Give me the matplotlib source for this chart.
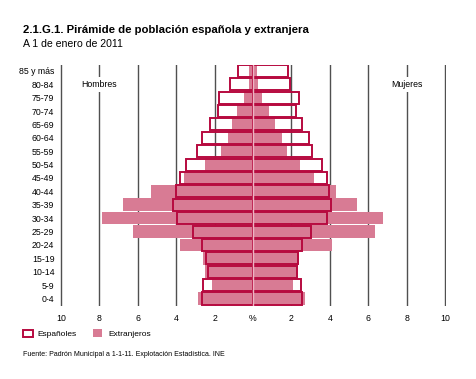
import matplotlib
matplotlib.use("Agg")
import matplotlib.pyplot as plt
import numpy as np
from matplotlib.patches import Rectangle

plt.rcParams['font.family'] = ['Liberation Sans', 'DejaVu Sans']

ages = ["0-4", "5-9", "10-14", "15-19", "20-24", "25-29", "30-34", "35-39",
        "40-44", "45-49", "50-54", "55-59", "60-64", "65-69", "70-74",
        "75-79", "80-84", "85 y más"]
esp_h = [2.66, 2.61, 2.35, 2.44, 2.66, 3.13, 3.94, 4.15, 4.00, 3.82, 3.48,
         2.94, 2.68, 2.26, 1.83, 1.78, 1.19, 0.77]
esp_m = [2.53, 2.50, 2.27, 2.36, 2.57, 3.03, 3.83, 4.07, 3.95, 3.85, 3.57,
         3.07, 2.90, 2.57, 2.25, 2.37, 1.91, 1.82]
ext_h = [2.85, 2.16, 2.50, 2.61, 3.81, 6.23, 7.88, 6.78, 5.29, 3.60, 2.49,
         1.68, 1.28, 1.09, 0.83, 0.48, 0.19, 0.19]
ext_m = [2.72, 2.08, 2.36, 2.40, 4.11, 6.36, 6.79, 5.39, 4.30, 3.17, 2.43,
         1.77, 1.51, 1.16, 0.82, 0.47, 0.25, 0.21]
xticks = [-10, -8, -6, -4, -2, 0, 2, 4, 6, 8, 10]
xticklabels = ["10", "8", "6", "4", "2", "%", "2", "4", "6", "8", "10"]

crimson = '#b70a3f'
pink = '#d87b94'
centre = '#eeb3c2'

fig = plt.figure(figsize=(4.76, 3.79), dpi=100)
ax = fig.add_axes([0.126, 0.193, 0.811, 0.636])

y = np.arange(len(ages))
for xv in [-10, -8, -6, -4, -2, 2, 4, 6, 8, 10]:
    ax.axvline(xv, color='#505050', lw=1.0, zorder=0)

ax.barh(y, -np.array(ext_h), height=0.94, color=pink, zorder=1)
ax.barh(y, ext_m, height=0.94, color=pink, zorder=1)
ax.barh(y, -np.array(esp_h), height=0.9, fill=False, edgecolor=crimson, lw=1.4, zorder=2)
ax.barh(y, esp_m, height=0.9, fill=False, edgecolor=crimson, lw=1.4, zorder=2)
ax.axvline(0, color=centre, lw=1.0, zorder=3)

ax.set_xlim(-10.05, 10.05)
ax.set_ylim(-0.55, 17.45)
ax.set_xticks(xticks)
ax.set_xticklabels(xticklabels, fontsize=6.3)
ax.set_xticks([-2, 2], minor=True)
ax.set_yticks(y)
ax.set_yticklabels(ages, fontsize=6.3)
ax.tick_params(axis='x', which='major', length=0, pad=6)
ax.tick_params(axis='x', which='minor', length=3, width=1.0, color='#505050')
ax.tick_params(axis='y', length=0, pad=4)
for s in ax.spines.values():
    s.set_visible(False)

ax.text(-8, 16, "Hombres", ha='center', va='center', fontsize=6.3,
        bbox=dict(facecolor='white', edgecolor='none', pad=2), zorder=4)
ax.text(8, 16, "Mujeres", ha='center', va='center', fontsize=6.3,
        bbox=dict(facecolor='white', edgecolor='none', pad=2), zorder=4)

fig.text(23/476, 1-30/379, "2.1.G.1. Pirámide de población española y extranjera",
         fontsize=8.2, fontweight='bold', va='center', ha='left')
fig.text(23/476, 1-44/379, "A 1 de enero de 2011", fontsize=7.6, va='center', ha='left')

# legend
fig.patches.append(Rectangle((23/476, 1-337/379), 10/476, 7/379, transform=fig.transFigure,
                             fill=False, edgecolor=crimson, lw=1.4))
fig.text(37/476, 1-334/379, "Españoles", fontsize=6, va='center', ha='left')
fig.patches.append(Rectangle((93/476, 1-337/379), 9/476, 8/379, transform=fig.transFigure,
                             facecolor=pink, edgecolor='none'))
fig.text(108/476, 1-334/379, "Extranjeros", fontsize=6, va='center', ha='left')

fig.text(23/476, 1-354/379, "Fuente: Padrón Municipal a 1-1-11. Explotación Estadística. INE",
         fontsize=5, va='center', ha='left')

fig.savefig("out.png", dpi=100)
